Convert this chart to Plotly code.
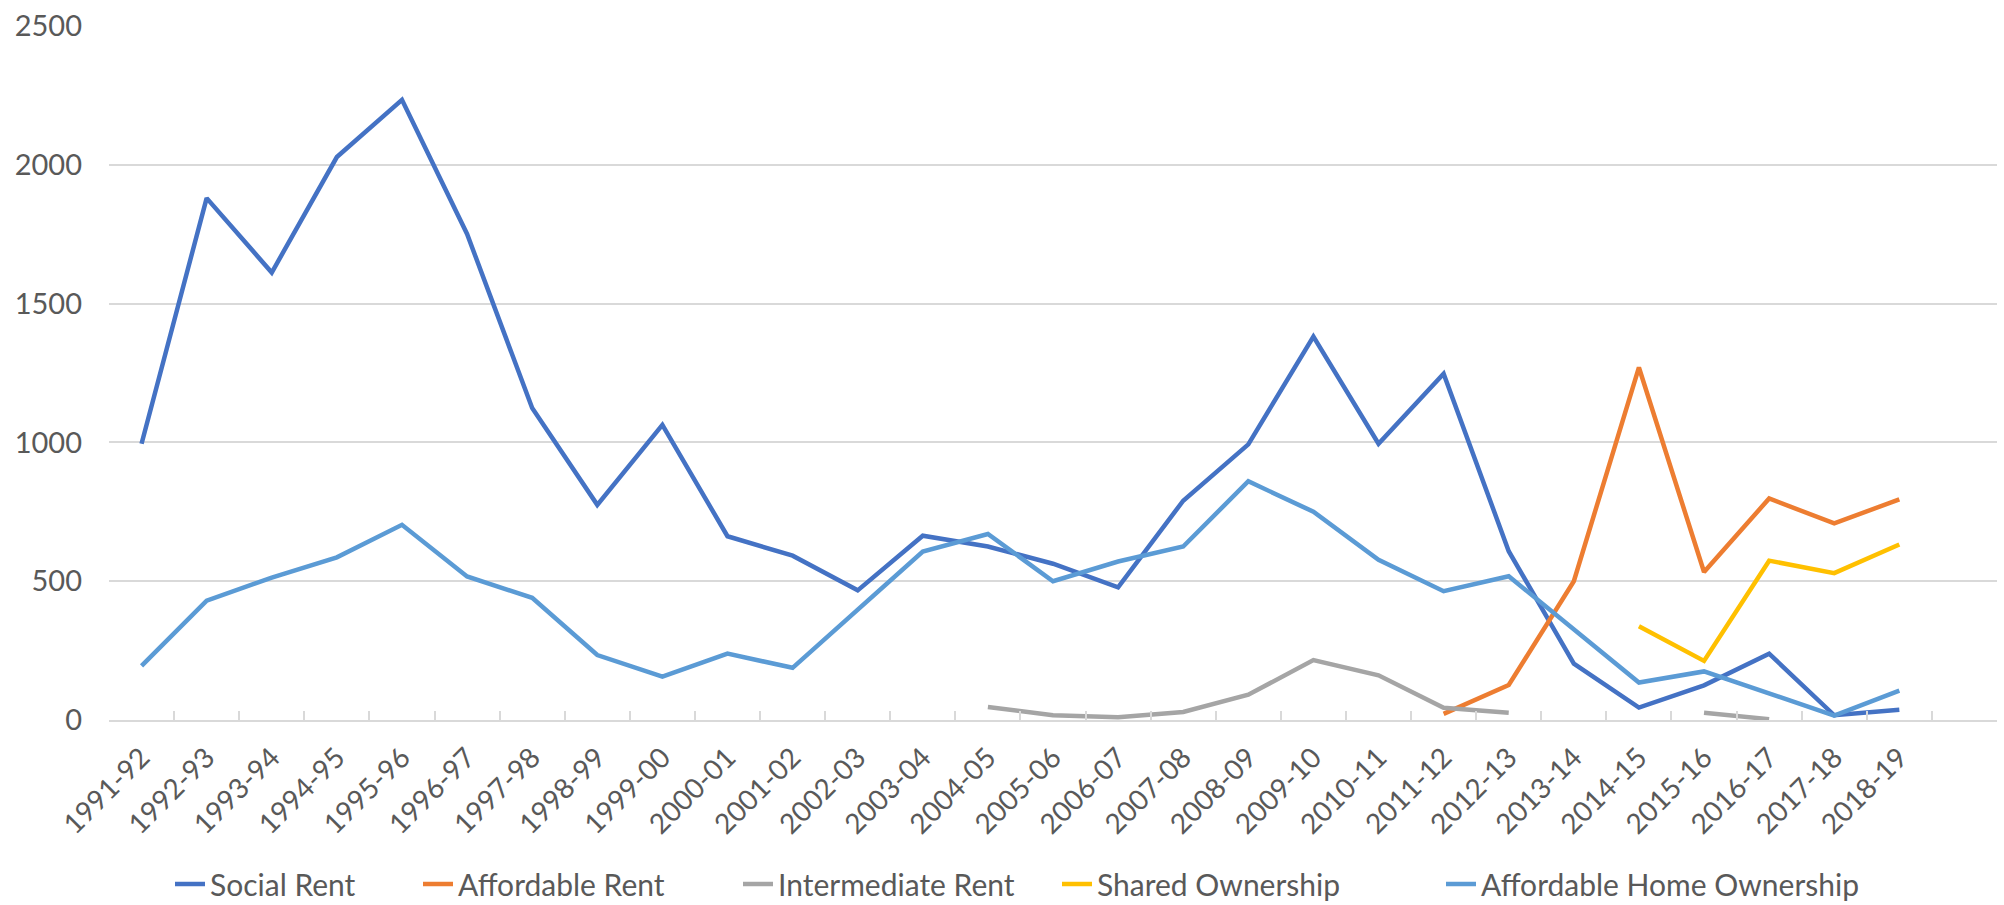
import plotly.graph_objects as go

categories = ["1991-92", "1992-93", "1993-94", "1994-95", "1995-96", "1996-97", "1997-98",
              "1998-99", "1999-00", "2000-01", "2001-02", "2002-03", "2003-04", "2004-05",
              "2005-06", "2006-07", "2007-08", "2008-09", "2009-10", "2010-11", "2011-12",
              "2012-13", "2013-14", "2014-15", "2015-16", "2016-17", "2017-18", "2018-19"]
extra_slot = [" "]

social_rent = [995, 1880, 1612, 2028, 2234, 1751, 1124, 775, 1063, 662, 592, 467, 664, 625,
               563, 478, 790, 993, 1381, 995, 1247, 608, 203, 45, 125, 239, 17, 37]
affordable_rent = [None] * 20 + [22, 126, 500, 1270, 533, 798, 708, 795]
intermediate_rent = [None] * 13 + [47, 17, 10, 29, 91, 216, 161, 44, 26, None, None, 26, 3, None, None]
shared_ownership = [None] * 23 + [338, 213, 574, 529, 632]
affordable_home_ownership = [195, 430, 513, 586, 703, 517, 440, 234, 156, 239, 188, 398, 607, 670,
                             500, 571, 625, 860, 750, 577, 464, 518, 327, 135, 175, 95, 16, 106]

series = [
    ("Social Rent", social_rent, "#4472C4"),
    ("Affordable Rent", affordable_rent, "#ED7D31"),
    ("Intermediate Rent", intermediate_rent, "#A5A5A5"),
    ("Shared Ownership", shared_ownership, "#FFC000"),
    ("Affordable Home Ownership", affordable_home_ownership, "#5B9BD5"),
]
# left edge (px) of each legend entry's text in the layout
legend_text_left = [212, 460, 780, 1099, 1483]

FONT = "Lato, 'Open Sans', sans-serif"
TXT = "#595959"
GRID = "#D9D9D9"
W, H = 2004, 905

fig = go.Figure()
legends = {}
for i, ((name, vals, col), tx) in enumerate(zip(series, legend_text_left)):
    key = "legend" if i == 0 else f"legend{i + 1}"
    fig.add_trace(go.Scatter(x=categories, y=vals, name=name, mode="lines",
                             line=dict(color=col, width=4.5), connectgaps=False,
                             legend=key))
    legends[key] = dict(orientation="h", xref="container", yref="container",
                        x=(tx - 42) / W, xanchor="left", y=(H - 884) / H, yanchor="middle",
                        font=dict(family=FONT, size=30, color=TXT),
                        bgcolor="rgba(0,0,0,0)", itemwidth=30)

fig.update_layout(
    width=W, height=H,
    margin=dict(l=109, r=7, t=21, b=185),
    paper_bgcolor="white", plot_bgcolor="white",
    font=dict(family=FONT, size=29, color=TXT),
    showlegend=True,
    xaxis=dict(type="category", categoryorder="array",
               categoryarray=categories + extra_slot,
               range=[-0.5, 28.5], tickson="boundaries",
               ticks="inside", ticklen=9, tickcolor=GRID, tickwidth=1.5,
               showline=True, linecolor=GRID, linewidth=2,
               showgrid=False, zeroline=False, tickangle=-45,
               tickfont=dict(family=FONT, size=28, color=TXT),
               ticklabelstandoff=8),
    yaxis=dict(range=[0, 2500], dtick=500, tick0=0,
               showgrid=True, gridcolor=GRID, gridwidth=1.5,
               zeroline=False, showline=False, ticks="",
               tickfont=dict(family=FONT, size=29, color=TXT),
               ticklabelstandoff=26),
    **legends,
)

fig.write_html("out.html")
